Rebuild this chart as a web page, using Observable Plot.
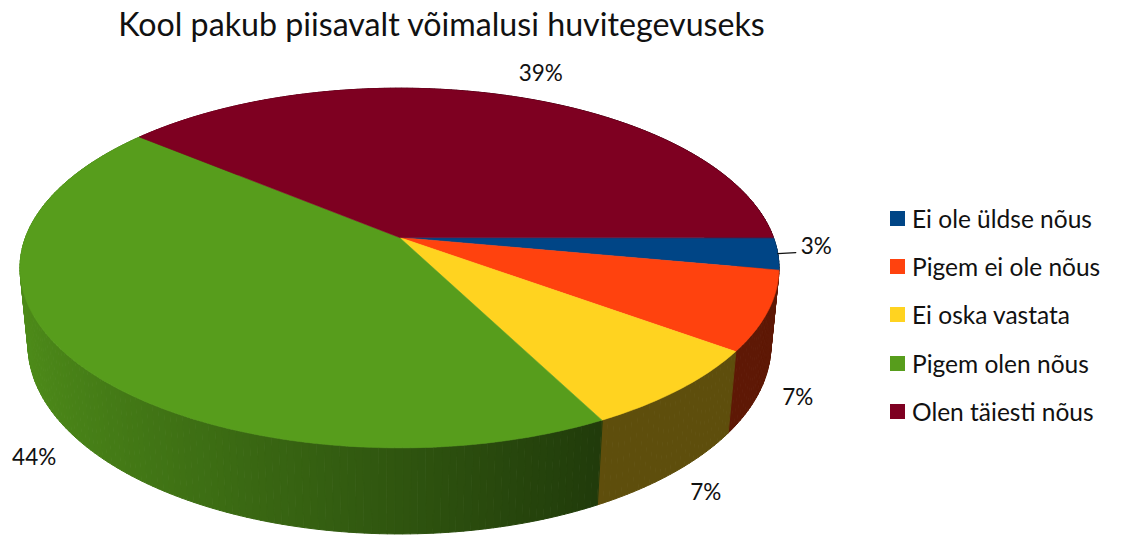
<!DOCTYPE html>
<html><head><meta charset="utf-8">
<script src="https://cdn.jsdelivr.net/npm/d3@7"></script>
<script src="https://cdn.jsdelivr.net/npm/@observablehq/plot@0.6"></script>
<style>
html,body{margin:0;padding:0;background:#fff;}
#wrap{position:relative;width:1122px;height:535px;overflow:hidden;font-family:Lato,sans-serif;}
#chart{position:absolute;left:0;top:0;}
#legend{position:absolute;left:890px;top:194px;width:232px;}
div.lg-swatches-columns div.lg-swatch{height:48.3px;padding:0;margin:0;}
div.lg-swatch > svg{margin-right:7px !important;}
div.lg-label{overflow:visible !important;}
</style></head>
<body><div id="wrap"><div id="chart"></div><div id="legend"></div></div>
<script>
const categories = ["Ei ole üldse nõus", "Pigem ei ole nõus", "Ei oska vastata", "Pigem olen nõus", "Olen täiesti nõus"];
const values = [2.9, 7.1, 7.4, 43.6, 39.0];
const colors = ["#004586", "#ff420e", "#ffd320", "#579d1c", "#7e0021"];
const title = "Kool pakub piisavalt võimalusi huvitegevuseks";

// perspective model of the tilted disc
const S = 0.467, C = Math.sqrt(1 - S * S), D0 = 5.21, H = 0.235;
const K = 374, CX = 399, CY = 237; // pixels per unit, centre
function project(theta, r, Y) {
  const X = r * Math.cos(theta), Z = r * Math.sin(theta);
  const D = D0 - Z * C - Y * S;
  return {x: X * D0 / D, y: (Z * S - Y * C) * D0 / D};
}
function shade(col, t) {
  const f = Math.max(0.37, 0.54 - 0.36 * Math.cos(t));
  const c = d3.rgb(col);
  return d3.rgb(c.r * f, c.g * f, c.b * f).formatHex();
}

const total = d3.sum(values);
const cum = d3.cumsum(values);
const slices = values.map((v, i) => ({
  i, name: categories[i], value: v, color: colors[i],
  a0: 2 * Math.PI * (cum[i] - v) / total,
  a1: 2 * Math.PI * cum[i] / total
}));

const STEP = Math.PI / 180;
// side wall quads
const quads = [];
slices.forEach(s => {
  const n = Math.max(1, Math.ceil((s.a1 - s.a0) / STEP));
  for (let j = 0; j < n; j++) {
    const t0 = s.a0 + (s.a1 - s.a0) * j / n, t1 = s.a0 + (s.a1 - s.a0) * (j + 1) / n;
    quads.push({t0, t1, tm: (t0 + t1) / 2, color: shade(s.color, (t0 + t1) / 2)});
  }
});
quads.sort((a, b) => Math.sin(a.tm) - Math.sin(b.tm));
const sidePts = [];
quads.forEach((q, id) => {
  [project(q.t0, 1, 0), project(q.t1, 1, 0), project(q.t1, 1, -H), project(q.t0, 1, -H)]
    .forEach(p => sidePts.push({...p, id, color: q.color}));
});

// top faces
const topPts = [];
slices.forEach(s => {
  const n = Math.max(2, Math.ceil((s.a1 - s.a0) / STEP));
  topPts.push({...project(0, 0, 0), id: s.i, color: s.color});
  for (let j = 0; j <= n; j++) {
    const t = s.a0 + (s.a1 - s.a0) * j / n;
    topPts.push({...project(t, 1, 0), id: s.i, color: s.color});
  }
});

// labels: anchor on rim (top rim for back slices, bottom rim for front ones) + pixel offset
const labelOffsets = [[23, -7], [38, 7], [33, 20], [-47, 15], [32, -22]];
const labelOnBottom = [false, true, true, true, false];
const labels = slices.map(s => {
  const m = (s.a0 + s.a1) / 2;
  const p = project(m, 1, labelOnBottom[s.i] ? -H : 0);
  const [dx, dy] = labelOffsets[s.i];
  return {ax: p.x, ay: p.y, x: p.x + dx / K, y: p.y + dy / K,
          text: Math.round(s.value / total * 100) + "%", anchor: s.i === 0 ? "start" : "middle"};
});
const leader = [
  {x: labels[0].ax, y: labels[0].ay},
  {x: labels[0].ax + 18 / K, y: labels[0].ay - 1 / K}
];

const FONT = "Lato, 'Open Sans', sans-serif";
const chart = Plot.plot({
  width: 1122, height: 535, margin: 0,
  style: {background: "#fff", overflow: "visible"},
  x: {domain: [-1, 1], range: [CX - K, CX + K], axis: null},
  y: {domain: [-1, 1], range: [CY - K, CY + K], axis: null},
  color: {type: "identity"},
  marks: [
    Plot.line(sidePts, {x: "x", y: "y", z: "id", fill: "color", stroke: "color", strokeWidth: 1, curve: "linear-closed"}),
    Plot.line(topPts, {x: "x", y: "y", z: "id", fill: "color", stroke: "color", strokeWidth: 0.6, curve: "linear-closed"}),
    Plot.line(leader, {x: "x", y: "y", stroke: "#111", strokeWidth: 1.2}),
    Plot.text(labels.filter(d => d.anchor === "middle"), {x: "x", y: "y", text: "text", fontSize: 22.5, fontFamily: FONT, fill: "#111", textAnchor: "middle"}),
    Plot.text(labels.filter(d => d.anchor === "start"), {x: "x", y: "y", text: "text", fontSize: 22.5, fontFamily: FONT, fill: "#111", textAnchor: "start"}),
    Plot.text([title], {frameAnchor: "top", lineAnchor: "middle", dx: -120, dy: 25, text: d => d, fontSize: 32.2, fontFamily: FONT, fill: "#111"})
  ]
});
document.getElementById("chart").appendChild(chart);

const legend = Plot.legend({
  color: {type: "ordinal", domain: categories, range: colors},
  legend: "swatches", columns: 1, swatchSize: 15, className: "lg",
  style: {fontFamily: FONT, fontSize: "24.5px", color: "#111", margin: 0}
});
document.getElementById("legend").appendChild(legend);
</script>
</body></html>
